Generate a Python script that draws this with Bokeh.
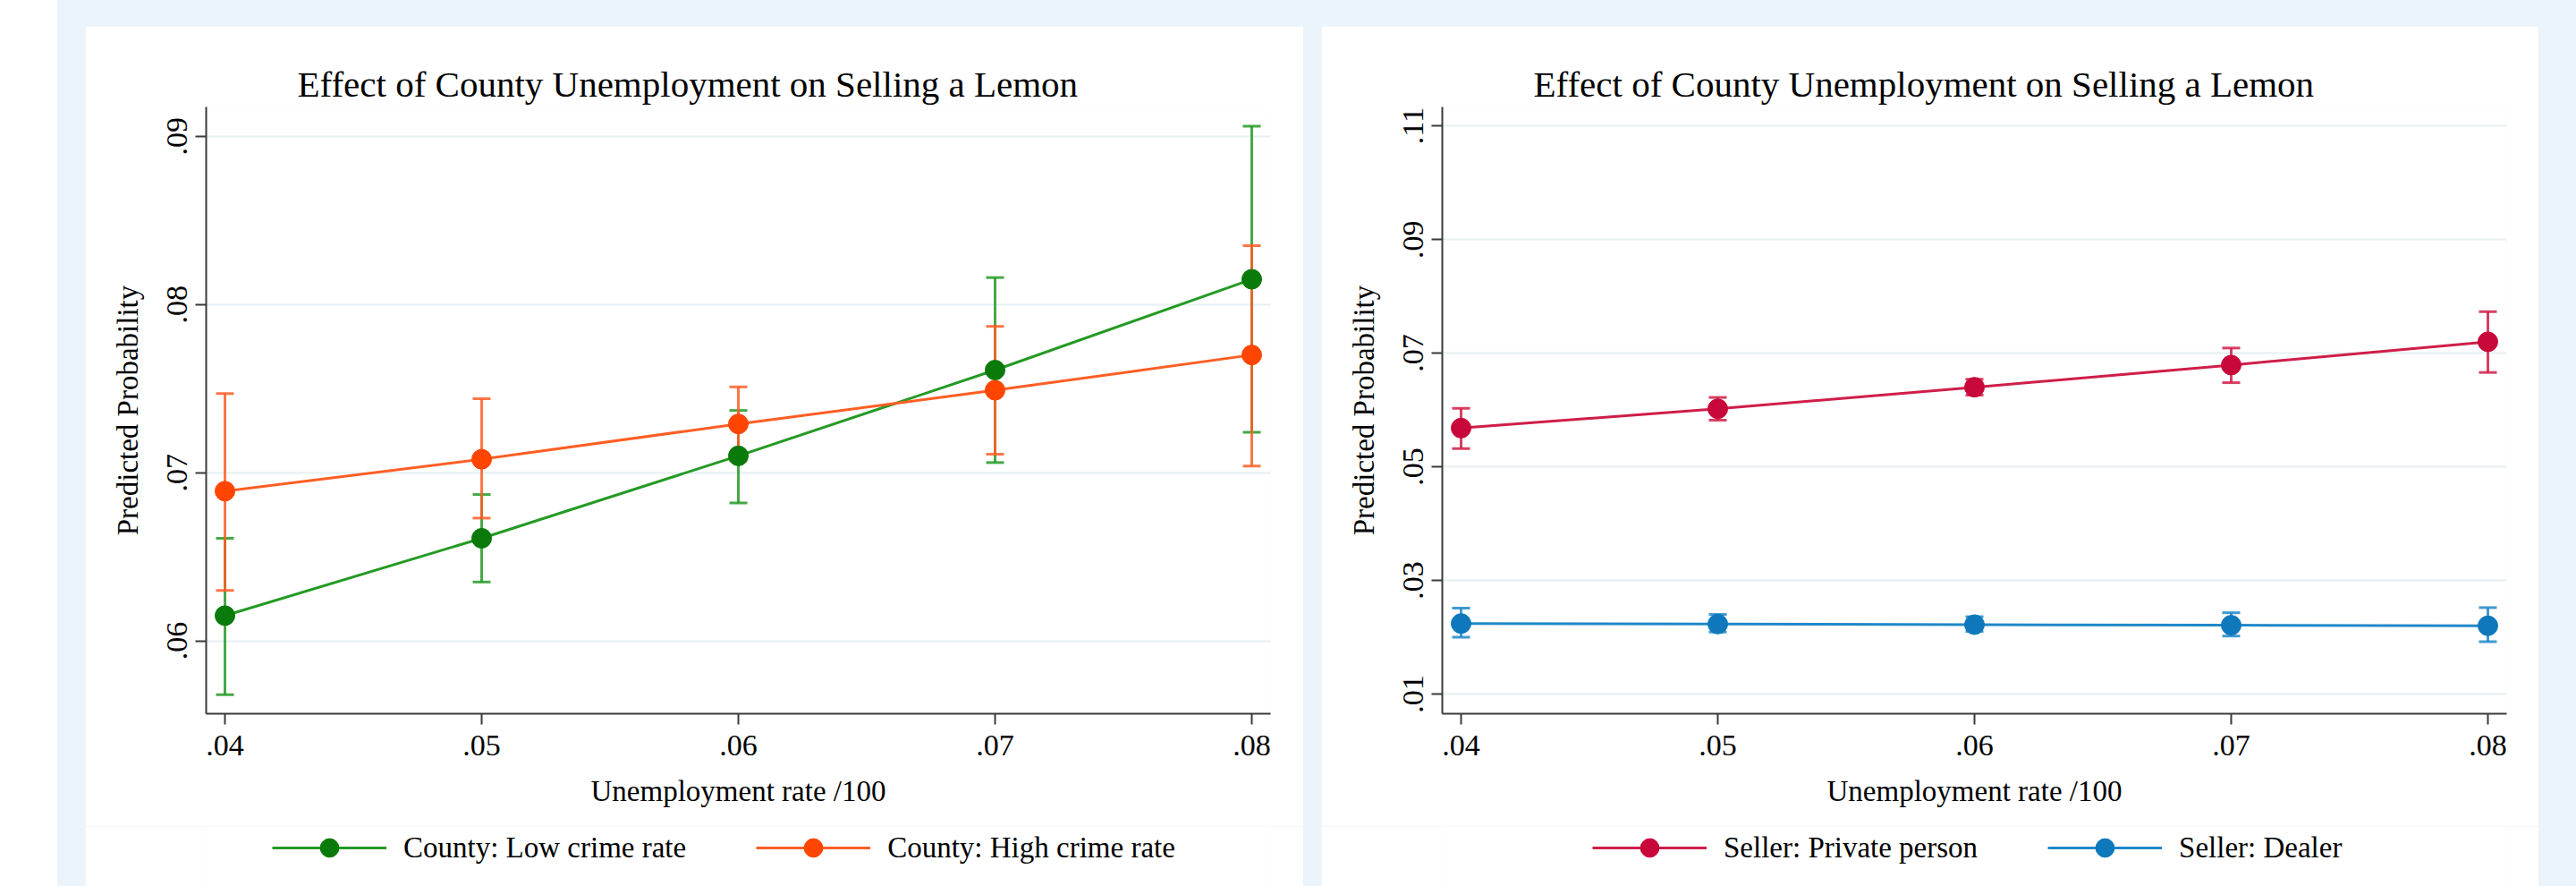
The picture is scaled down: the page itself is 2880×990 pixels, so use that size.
import numpy as np
from bokeh.plotting import figure
from bokeh.models import ColumnDataSource, Whisker, TeeHead, FixedTicker, Legend, LegendItem
from bokeh.layouts import row, column
from bokeh.embed import file_html
from bokeh.resources import INLINE

# ---------------- data ----------------
unemp = [0.04, 0.05, 0.06, 0.07, 0.08]
x_tick_labels = [".04", ".05", ".06", ".07", ".08"]

low_crime_mean = [0.0615, 0.0661, 0.0710, 0.0761, 0.0815]
low_crime_lower = [0.0568, 0.0635, 0.0682, 0.0706, 0.0724]
low_crime_upper = [0.0661, 0.0687, 0.0737, 0.0816, 0.0906]

high_crime_mean = [0.0689, 0.0708, 0.0729, 0.0749, 0.0770]
high_crime_lower = [0.0630, 0.0673, 0.0707, 0.0711, 0.0704]
high_crime_upper = [0.0747, 0.0744, 0.0751, 0.0787, 0.0835]

private_mean = [0.0568, 0.0602, 0.0640, 0.0679, 0.0720]
private_lower = [0.0532, 0.0582, 0.0626, 0.0648, 0.0666]
private_upper = [0.0603, 0.0622, 0.0654, 0.0709, 0.0773]

dealer_mean = [0.0224, 0.0223, 0.0222, 0.0221, 0.0220]
dealer_lower = [0.0200, 0.0209, 0.0210, 0.0202, 0.0192]
dealer_upper = [0.0251, 0.0240, 0.0236, 0.0243, 0.0252]

left_y_ticks = [0.06, 0.07, 0.08, 0.09]
left_y_labels = [".06", ".07", ".08", ".09"]
right_y_ticks = [0.01, 0.03, 0.05, 0.07, 0.09, 0.11]
right_y_labels = [".01", ".03", ".05", ".07", ".09", ".11"]

title_text = "Effect of County Unemployment on Selling a Lemon"
x_label = "Unemployment rate /100"
y_label = "Predicted Probability"

FONT = "Liberation Serif"
AXIS_COL = "#3a3a3a"
PLOT_H = 894
LEG_H = 67


def make_panel(width, right_border, y_range, yticks, ylabels, series, title_offset, legend_x):
    p = figure(width=width, height=PLOT_H, x_range=(0.039268, 0.080732), y_range=y_range,
               output_backend="svg", toolbar_location=None,
               min_border_left=135, min_border_right=right_border,
               min_border_top=90, min_border_bottom=PLOT_H - 90 - 678,
               title=title_text)
    p.outline_line_color = None
    p.border_fill_color = "white"
    p.background_fill_color = "white"

    p.title.text_font = FONT
    p.title.text_font_size = "41px"
    p.title.text_font_style = "normal"
    p.title.text_color = "black"
    p.title.align = "left"
    p.title.offset = title_offset
    p.title.standoff = 6

    p.xgrid.visible = False
    p.ygrid.grid_line_color = "#E6EFF1"
    p.ygrid.grid_line_width = 2

    xa = p.xaxis[0]
    ya = p.yaxis[0]
    xa.ticker = FixedTicker(ticks=unemp)
    xa.major_label_overrides = {t: l for t, l in zip(unemp, x_tick_labels)}
    ya.ticker = FixedTicker(ticks=yticks)
    ya.major_label_overrides = {t: l for t, l in zip(yticks, ylabels)}
    ya.major_label_orientation = "vertical"
    xa.axis_label = x_label
    ya.axis_label = y_label
    for ax in (xa, ya):
        ax.axis_line_color = AXIS_COL
        ax.axis_line_width = 2
        ax.major_tick_line_color = AXIS_COL
        ax.major_tick_line_width = 2
        ax.major_tick_out = 12
        ax.major_tick_in = 0
        ax.minor_tick_line_color = None
        ax.major_label_text_font = FONT
        ax.major_label_text_font_size = "34px"
        ax.major_label_text_color = "black"
        ax.axis_label_text_font = FONT
        ax.axis_label_text_font_size = "33px"
        ax.axis_label_text_font_style = "normal"
        ax.axis_label_text_color = "black"
    xa.major_label_standoff = 12
    xa.axis_label_standoff = 19
    ya.major_label_standoff = 9
    ya.axis_label_standoff = 24

    # legend strip (separate canvas so the legend is not clipped by the frame)
    lg = figure(width=width, height=LEG_H, output_backend="svg", toolbar_location=None,
                min_border_left=0, min_border_right=0, min_border_top=0, min_border_bottom=0,
                x_axis_type=None, y_axis_type=None)
    lg.outline_line_color = None
    lg.border_fill_color = "white"
    lg.background_fill_color = "white"
    lg.xgrid.visible = False
    lg.ygrid.visible = False

    items = []
    for name, mean, lo, hi, line_col, mark_col in series:
        src = ColumnDataSource(dict(x=unemp, y=mean, lower=lo, upper=hi))
        w = Whisker(source=src, base="x", upper="upper", lower="lower",
                    line_color=line_col, line_width=3, line_alpha=0.85,
                    upper_head=TeeHead(size=20, line_color=line_col, line_width=3, line_alpha=0.85),
                    lower_head=TeeHead(size=20, line_color=line_col, line_width=3, line_alpha=0.85))
        p.add_layout(w)
        p.line("x", "y", source=src, line_color=line_col, line_width=3)
        p.scatter("x", "y", source=src, size=22, fill_color=mark_col, line_color=mark_col)
        # legend key glyphs (same styling, no visible data)
        key_src = ColumnDataSource(dict(x=np.array([np.nan]), y=np.array([np.nan])))
        k1 = lg.line("x", "y", source=key_src, line_color=line_col, line_width=3)
        k2 = lg.scatter("x", "y", source=key_src, fill_color=mark_col, line_color=mark_col)
        items.append(LegendItem(label=name, renderers=[k1, k2]))

    leg = Legend(items=items, orientation="horizontal", location=(legend_x, 17))
    leg.glyph_width = 128
    leg.glyph_height = 52
    leg.label_standoff = 19
    leg.spacing = 78
    leg.padding = 0
    leg.margin = 0
    leg.label_text_font = FONT
    leg.label_text_font_size = "33px"
    leg.label_text_color = "black"
    leg.background_fill_alpha = 0
    leg.border_line_color = None
    lg.add_layout(leg)
    return p, lg


left_series = [
    ("County: Low crime rate", low_crime_mean, low_crime_lower, low_crime_upper, "#249a24", "#0a7a0a"),
    ("County: High crime rate", high_crime_mean, high_crime_lower, high_crime_upper, "#ff5e24", "#ff4500"),
]
right_series = [
    ("Seller: Private person", private_mean, private_lower, private_upper, "#cf1e48", "#c8083a"),
    ("Seller: Dealer", dealer_mean, dealer_lower, dealer_upper, "#2088c8", "#0f78bc"),
]

p1, l1 = make_panel(1362, 37, (0.055668, 0.091746), left_y_ticks, left_y_labels, left_series, 102, 74)
p2, l2 = make_panel(1361, 36, (0.00652, 0.11334), right_y_ticks, right_y_labels, right_series, 102, 168)

c1 = column(p1, l1, spacing=0, margin=(29, 0, 0, 31))
c2 = column(p2, l2, spacing=0, margin=(29, 42, 0, 0))

layout = row(c1, c2, spacing=20, margin=(0, 0, 0, 64),
             styles={"background-color": "#EBF3FB"})

open("out.html", "w").write(file_html(layout, INLINE))
